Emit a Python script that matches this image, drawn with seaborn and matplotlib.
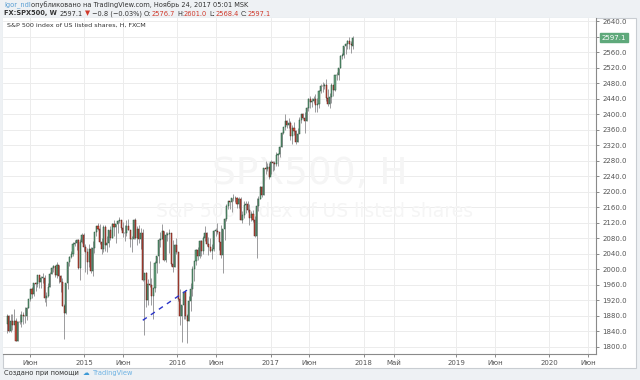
import numpy as np
import pandas as pd
import matplotlib
matplotlib.use("Agg")
import matplotlib.pyplot as plt
import matplotlib.dates as mdates
from matplotlib.patches import Rectangle
import seaborn as sns

# ---------------- data (weekly FX:SPX500, Mar 2014 - Nov 2017) ----------------
close = [1878, 1841, 1866, 1857, 1865, 1815, 1864, 1863, 1881, 1878, 1878, 1900, 1924,
         1949, 1937, 1963, 1961, 1985, 1968, 1978, 1978, 1925, 1931, 1955, 1988, 2003,
         2007, 1985, 2010, 1982, 1967, 1906, 1886, 1964, 2018, 2032, 2039, 2064, 2067,
         2075, 2002, 2070, 2088,
         2058, 2045, 2019, 2051, 1995, 2055, 2097, 2110, 2104, 2071, 2053, 2108, 2061,
         2067, 2102, 2081, 2117, 2108, 2116, 2123, 2126, 2107, 2092, 2094, 2110, 2101,
         2077, 2077, 2126, 2080, 2104, 2078, 2092, 1971, 1989, 1921, 1961, 1958, 1931,
         1951, 2015, 2033, 2075, 2079, 2099, 2023, 2089, 2090, 2092, 2012, 2006, 2061, 2044,
         1922, 1880, 1907, 1940, 1880, 1865, 1918, 1948, 2000, 2022, 2050, 2035, 2073,
         2048, 2081, 2092, 2065, 2057, 2047, 2052, 2099, 2099, 2096, 2071, 2037, 2103,
         2130, 2162, 2175, 2173, 2183, 2184, 2184, 2169, 2180, 2128, 2139, 2165, 2168,
         2153, 2133, 2141, 2126, 2085, 2164, 2182, 2213, 2192, 2260, 2258, 2264, 2239,
         2277, 2275, 2271, 2295, 2297, 2316, 2351, 2367, 2383, 2373, 2378, 2344, 2363,
         2356, 2329, 2349, 2384, 2399, 2391, 2382, 2416, 2439, 2432, 2433, 2438, 2423,
         2425, 2459, 2473, 2472, 2476, 2441, 2426, 2443, 2476, 2461, 2500, 2502, 2519,
         2549, 2553, 2575, 2581, 2588, 2582, 2578, 2597.1]
high = [1883, 1882, 1883, 1884, 1897, 1873, 1865, 1884, 1891, 1889, 1902, 1901, 1924,
        1950, 1955, 1963, 1968, 1985, 1985, 1983, 1991, 1984, 1942, 1964, 1992, 2006,
        2011, 2008, 2019, 2010, 1986, 1977, 1909, 1965, 2018, 2034, 2046, 2071, 2075,
        2079, 2078, 2077, 2093,
        2092, 2064, 2054, 2064, 2057, 2072, 2097, 2111, 2119, 2117, 2081, 2114, 2114,
        2085, 2102, 2111, 2120, 2126, 2117, 2127, 2134, 2126, 2121, 2115, 2127, 2129,
        2102, 2085, 2129, 2132, 2111, 2113, 2105, 2103, 1990, 1993, 1975, 2021, 1976,
        1952, 2020, 2034, 2080, 2095, 2116, 2099, 2097, 2097, 2104, 2082, 2076, 2065, 2081,
        2038, 1950, 1908, 1940, 1947, 1883, 1930, 1963, 2009, 2022, 2052, 2056, 2075,
        2075, 2086, 2111, 2096, 2084, 2081, 2064, 2100, 2106, 2120, 2096, 2113, 2104,
        2132, 2169, 2175, 2177, 2184, 2194, 2188, 2187, 2185, 2187, 2151, 2176, 2175,
        2175, 2167, 2151, 2153, 2137, 2183, 2189, 2214, 2214, 2260, 2278, 2273, 2273,
        2281, 2279, 2279, 2301, 2300, 2319, 2353, 2368, 2401, 2386, 2390, 2382, 2372,
        2379, 2360, 2363, 2392, 2400, 2404, 2406, 2418, 2441, 2446, 2441, 2447, 2453,
        2442, 2463, 2478, 2484, 2480, 2491, 2466, 2454, 2480, 2476, 2500, 2508, 2520,
        2553, 2557, 2575, 2584, 2590, 2598, 2589, 2601.0]
low = [1834, 1839, 1839, 1842, 1858, 1814, 1814, 1859, 1851, 1859, 1862, 1868, 1900,
       1919, 1925, 1931, 1944, 1955, 1952, 1952, 1963, 1916, 1905, 1927, 1954, 1987,
       1992, 1980, 1978, 1963, 1941, 1905, 1820, 1884, 1950, 2007, 2028, 2034, 2060,
       2050, 2001, 1972, 2068,
       2046, 1992, 1988, 2005, 1989, 1981, 2041, 2085, 2100, 2066, 2039, 2045, 2046,
       2045, 2057, 2074, 2080, 2085, 2067, 2092, 2118, 2101, 2082, 2072, 2085, 2100,
       2057, 2044, 2077, 2077, 2063, 2067, 2053, 1970, 1831, 1903, 1908, 1953, 1908,
       1872, 1941, 1991, 2017, 2058, 2078, 2020, 2019, 2073, 2042, 2008, 1993, 2005, 2040,
       1918, 1857, 1812, 1872, 1872, 1810, 1865, 1891, 1931, 1970, 2010, 2023, 2030,
       2033, 2039, 2072, 2060, 2037, 2045, 2025, 2048, 2085, 2090, 2050, 2030, 1991,
       2074, 2125, 2154, 2155, 2147, 2175, 2172, 2159, 2159, 2126, 2119, 2132, 2145,
       2147, 2115, 2125, 2121, 2083, 2028, 2150, 2180, 2186, 2190, 2245, 2252, 2233,
       2245, 2254, 2257, 2265, 2267, 2290, 2315, 2348, 2360, 2364, 2365, 2334, 2323,
       2346, 2322, 2328, 2350, 2378, 2388, 2352, 2382, 2408, 2415, 2419, 2428, 2405,
       2406, 2417, 2455, 2458, 2465, 2435, 2422, 2417, 2428, 2446, 2460, 2488, 2488,
       2519, 2541, 2545, 2555, 2569, 2567, 2558, 2568.4]
first_open = 1859.0          # close of the week before the first bar
last_open = 2576.7           # open shown in the header for the last bar
trend_dates = ["2015-08-18", "2016-02-24"]
trend_prices = [1868, 1953]
price_ticks = list(range(1800, 2641, 40))
tick_dates = ["2014-06-01", "2015-01-01", "2015-06-01", "2016-01-01", "2016-06-01",
              "2017-01-01", "2017-06-01", "2018-01-01", "2018-05-01", "2019-01-01",
              "2019-06-01", "2020-01-01", "2020-06-01"]
tick_labels = ["Июн", "2015", "Июн", "2016", "Июн", "2017", "Июн", "2018", "Май",
               "2019", "Июн", "2020", "Июн"]
last_price = 2597.1

# ---------------- build table ----------------
weeks = pd.date_range("2014-03-03", periods=len(close), freq="7D")
opens = [first_open] + close[:-1]
opens[-1] = last_open
df = pd.DataFrame({"date": weeks, "open": opens, "high": high, "low": low, "close": close})
df["up"] = df["close"] >= df["open"]

# ---------------- style ----------------
sns.set_theme(style="white")
plt.rcParams["font.family"] = ["DejaVu Sans"]
W, H = 640, 380
fig = plt.figure(figsize=(W / 100, H / 100), dpi=100, facecolor="#eef1f4")

# outer white frame
fig.patches.append(Rectangle((3 / W, 1 - 368 / H), (636 - 3) / W, (368 - 18) / H,
                             transform=fig.transFigure, facecolor="white",
                             edgecolor="#c9cdd2", lw=0.8, zorder=-5))

ax_l, ax_r, ax_t, ax_b = 3, 596, 18, 354
ax = fig.add_axes([ax_l / W, 1 - ax_b / H, (ax_r - ax_l) / W, (ax_b - ax_t) / H])
ax.set_zorder(2)
ax.set_facecolor("white")

# grid
for p in price_ticks:
    ax.axhline(p, color="#ececec", lw=0.7, zorder=0)
for d in tick_dates:
    ax.axvline(pd.Timestamp(d), color="#ececec", lw=0.7, zorder=0)

# watermark
ax.text(0.518, 0.535, "SPX500, H", transform=ax.transAxes, fontsize=27,
        color="#f5f5f5", ha="center", va="center", zorder=0.5)
ax.text(0.525, 0.425, "S&P 500 index of US listed shares", transform=ax.transAxes,
        fontsize=13.5, color="#f5f5f5", ha="center", va="center", zorder=0.5)

# candles
x = mdates.date2num(df["date"])
ax.vlines(x, df["low"], df["high"], color="#8c8c8e", lw=0.6, zorder=2)
body_lo = np.minimum(df["open"], df["close"])
body_h = np.maximum(np.abs(df["close"] - df["open"]), 0.8)
fc = np.where(df["up"], "#6ba583", "#d75442")
ec = np.where(df["up"], "#225437", "#5b1a13")
ax.bar(x, body_h, bottom=body_lo, width=4.2, color=fc, edgecolor=ec, lw=0.35, zorder=3)

# trend line
tl = pd.DataFrame({"date": pd.to_datetime(trend_dates), "price": trend_prices})
sns.lineplot(data=tl, x="date", y="price", ax=ax, color="#2b34c8", lw=1.0,
             linestyle=(0, (3.5, 3.5)), zorder=4)

ax.set_xlim(pd.Timestamp("2014-02-15"), pd.Timestamp("2020-07-02"))
ax.set_ylim(1781, 2648)
ax.set_xlabel("")
ax.set_ylabel("")

ax.yaxis.tick_right()
ax.set_yticks(price_ticks)
ax.set_yticklabels([f"{p:.1f}" for p in price_ticks])
ax.tick_params(axis="y", right=True, length=2.5, width=0.6, color="#777777",
               labelsize=5, labelcolor="#555555", pad=2)
ax.set_xticks([mdates.date2num(pd.Timestamp(d)) for d in tick_dates])
ax.set_xticklabels(tick_labels)
ax.tick_params(axis="x", bottom=True, length=2.5, width=0.6, color="#777777",
               labelsize=5, labelcolor="#555555", pad=2)
for s in ["left", "top"]:
    ax.spines[s].set_visible(False)
for s in ["right", "bottom"]:
    ax.spines[s].set_color("#8a8a8a")
    ax.spines[s].set_linewidth(0.8)

# last price marker
ax.annotate(f"{last_price:.1f}", xy=(1.0, last_price), xycoords=("axes fraction", "data"),
            xytext=(4, 0), textcoords="offset points", fontsize=5, color="white",
            va="center", ha="left",
            bbox=dict(boxstyle="square,pad=0.25", fc="#5fa97b", ec="#5fa97b"))

# pane legend
ax.text(4 / (ax_r - ax_l), 1 - 7 / (ax_b - ax_t), "S&P 500 index of US listed shares, H, FXCM",
        transform=ax.transAxes, fontsize=4.6, color="#333333", ha="left", va="center")

# ---------------- header / footer ----------------
renderer = fig.canvas.get_renderer()


def seq_text(x_px, y_px, parts, size=4.8):
    xp = x_px
    for s, color, weight, gap in parts:
        t = fig.text(xp / W, 1 - y_px / H, s, color=color, fontsize=size,
                     fontweight=weight, ha="left", va="center")
        xp += t.get_window_extent(renderer=renderer).width + gap


red = "#d0392b"
dark = "#333333"
seq_text(4, 5, [("Igor_ndl", "#5a9fd4", "normal", 0),
                ("опубликовано на TradingView.com, Ноябрь 24, 2017 05:01 MSK", dark, "normal", 0)])
seq_text(4, 13.5, [("FX:SPX500, W", dark, "bold", 3),
                   ("2597.1", dark, "normal", 2),
                   ("▼", red, "normal", 2),
                   ("−0.8 (−0.03%)", dark, "normal", 2),
                   ("O:", dark, "normal", 0), ("2576.7", red, "normal", 2),
                   ("H:", dark, "normal", 0), ("2601.0", red, "normal", 2),
                   ("L:", dark, "normal", 0), ("2568.4", red, "normal", 2),
                   ("C:", dark, "normal", 0), ("2597.1", red, "normal", 0)])
seq_text(4, 373, [("Создано при помощи", dark, "normal", 4),
                  ("☁", "#3d9ad6", "normal", 3),
                  ("TradingView", "#6db2e3", "normal", 0)])

fig.savefig("out.png", dpi=100, facecolor=fig.get_facecolor())
